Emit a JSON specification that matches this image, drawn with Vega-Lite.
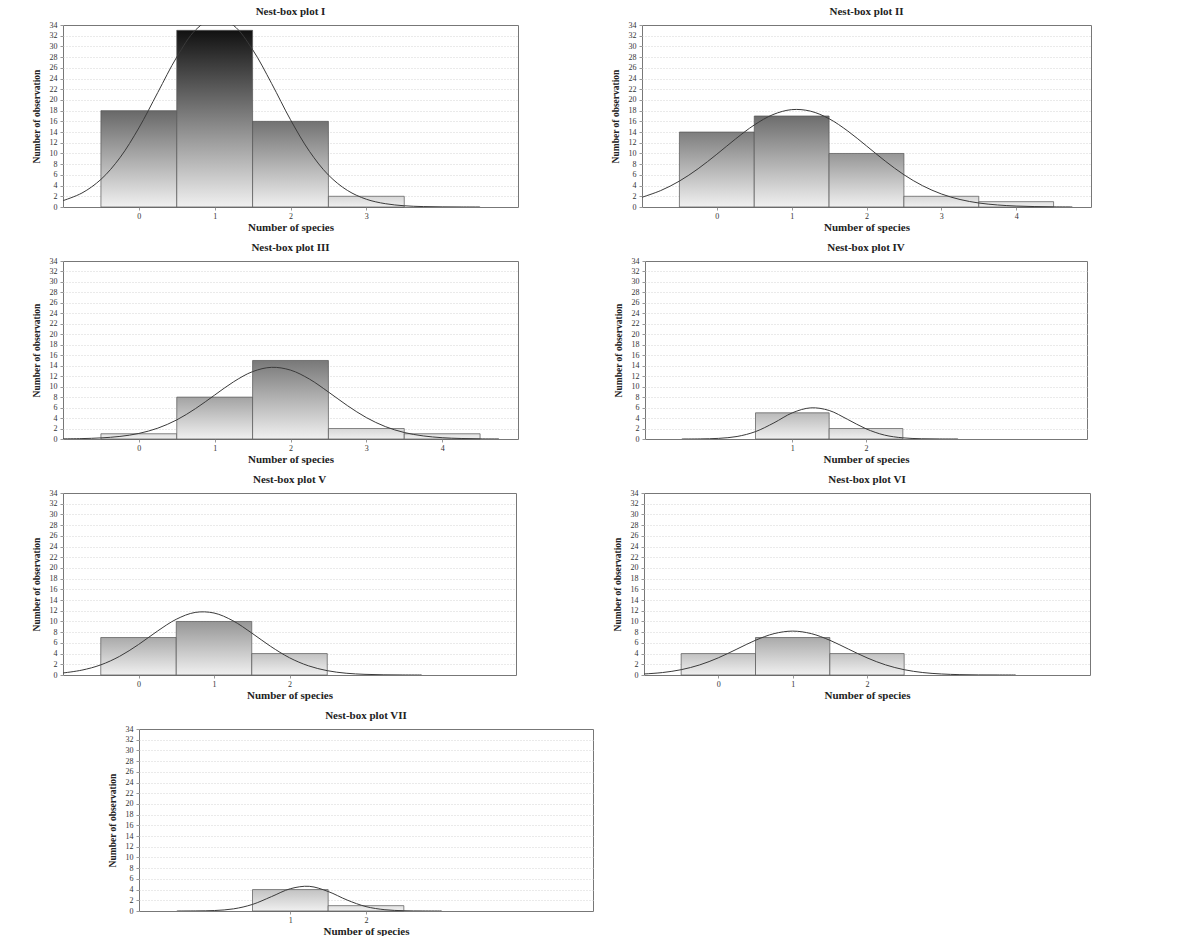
{
  "$schema": "https://vega.github.io/schema/vega-lite/v6.json",
  "background": "white",
  "padding": {"left": 30, "top": 5, "right": 5, "bottom": 2},
  "datasets": {
    "bars": [
      {"p": "I", "from": -0.5, "to": 0.5, "n": 18},
      {"p": "I", "from": 0.5, "to": 1.5, "n": 33},
      {"p": "I", "from": 1.5, "to": 2.5, "n": 16},
      {"p": "I", "from": 2.5, "to": 3.5, "n": 2},
      {"p": "II", "from": -0.5, "to": 0.5, "n": 14},
      {"p": "II", "from": 0.5, "to": 1.5, "n": 17},
      {"p": "II", "from": 1.5, "to": 2.5, "n": 10},
      {"p": "II", "from": 2.5, "to": 3.5, "n": 2},
      {"p": "II", "from": 3.5, "to": 4.5, "n": 1},
      {"p": "III", "from": -0.5, "to": 0.5, "n": 1},
      {"p": "III", "from": 0.5, "to": 1.5, "n": 8},
      {"p": "III", "from": 1.5, "to": 2.5, "n": 15},
      {"p": "III", "from": 2.5, "to": 3.5, "n": 2},
      {"p": "III", "from": 3.5, "to": 4.5, "n": 1},
      {"p": "IV", "from": 0.5, "to": 1.5, "n": 5},
      {"p": "IV", "from": 1.5, "to": 2.5, "n": 2},
      {"p": "V", "from": -0.5, "to": 0.5, "n": 7},
      {"p": "V", "from": 0.5, "to": 1.5, "n": 10},
      {"p": "V", "from": 1.5, "to": 2.5, "n": 4},
      {"p": "VI", "from": -0.5, "to": 0.5, "n": 4},
      {"p": "VI", "from": 0.5, "to": 1.5, "n": 7},
      {"p": "VI", "from": 1.5, "to": 2.5, "n": 4},
      {"p": "VII", "from": 0.5, "to": 1.5, "n": 4},
      {"p": "VII", "from": 1.5, "to": 2.5, "n": 1}
    ],
    "curve": [
      {"p": "I", "x": -1, "y": 1.19}, {"p": "I", "x": -0.75, "y": 2.61}, {"p": "I", "x": -0.5, "y": 5.15}, {"p": "I", "x": -0.25, "y": 9.19},
      {"p": "I", "x": 0, "y": 14.76}, {"p": "I", "x": 0.25, "y": 21.4}, {"p": "I", "x": 0.5, "y": 28.0}, {"p": "I", "x": 0.75, "y": 33.1},
      {"p": "I", "x": 1, "y": 35.3}, {"p": "I", "x": 1.25, "y": 33.9}, {"p": "I", "x": 1.5, "y": 29.4}, {"p": "I", "x": 1.75, "y": 23.1},
      {"p": "I", "x": 2, "y": 16.3}, {"p": "I", "x": 2.25, "y": 10.4}, {"p": "I", "x": 2.5, "y": 5.97}, {"p": "I", "x": 2.75, "y": 3.1},
      {"p": "I", "x": 3, "y": 1.45}, {"p": "I", "x": 3.25, "y": 0.62}, {"p": "I", "x": 3.5, "y": 0.23}, {"p": "I", "x": 3.75, "y": 0.08},
      {"p": "I", "x": 4, "y": 0.03}, {"p": "I", "x": 4.25, "y": 0.01}, {"p": "I", "x": 4.5, "y": 0},
      {"p": "II", "x": -1, "y": 1.82}, {"p": "II", "x": -0.75, "y": 3.07}, {"p": "II", "x": -0.5, "y": 4.84}, {"p": "II", "x": -0.25, "y": 7.15},
      {"p": "II", "x": 0, "y": 9.86}, {"p": "II", "x": 0.25, "y": 12.71}, {"p": "II", "x": 0.5, "y": 15.32}, {"p": "II", "x": 0.75, "y": 17.26},
      {"p": "II", "x": 1, "y": 18.19}, {"p": "II", "x": 1.25, "y": 17.91}, {"p": "II", "x": 1.5, "y": 16.49}, {"p": "II", "x": 1.75, "y": 14.19},
      {"p": "II", "x": 2, "y": 11.41}, {"p": "II", "x": 2.25, "y": 8.58}, {"p": "II", "x": 2.5, "y": 6.03}, {"p": "II", "x": 2.75, "y": 3.97},
      {"p": "II", "x": 3, "y": 2.44}, {"p": "II", "x": 3.25, "y": 1.4}, {"p": "II", "x": 3.5, "y": 0.75}, {"p": "II", "x": 3.75, "y": 0.38},
      {"p": "II", "x": 4, "y": 0.18}, {"p": "II", "x": 4.25, "y": 0.08}, {"p": "II", "x": 4.5, "y": 0.03}, {"p": "II", "x": 4.75, "y": 0.01},
      {"p": "III", "x": -1, "y": 0.03}, {"p": "III", "x": -0.75, "y": 0.08}, {"p": "III", "x": -0.5, "y": 0.21}, {"p": "III", "x": -0.25, "y": 0.49},
      {"p": "III", "x": 0, "y": 1.06}, {"p": "III", "x": 0.25, "y": 2.07}, {"p": "III", "x": 0.5, "y": 3.65}, {"p": "III", "x": 0.75, "y": 5.83},
      {"p": "III", "x": 1, "y": 8.39}, {"p": "III", "x": 1.25, "y": 10.93}, {"p": "III", "x": 1.5, "y": 12.87}, {"p": "III", "x": 1.75, "y": 13.69},
      {"p": "III", "x": 2, "y": 13.16}, {"p": "III", "x": 2.25, "y": 11.44}, {"p": "III", "x": 2.5, "y": 8.98}, {"p": "III", "x": 2.75, "y": 6.38},
      {"p": "III", "x": 3, "y": 4.09}, {"p": "III", "x": 3.25, "y": 2.37}, {"p": "III", "x": 3.5, "y": 1.24}, {"p": "III", "x": 3.75, "y": 0.59},
      {"p": "III", "x": 4, "y": 0.25}, {"p": "III", "x": 4.25, "y": 0.1}, {"p": "III", "x": 4.5, "y": 0.03}, {"p": "III", "x": 4.75, "y": 0.01},
      {"p": "IV", "x": -0.5, "y": 0}, {"p": "IV", "x": -0.25, "y": 0.02}, {"p": "IV", "x": 0, "y": 0.12}, {"p": "IV", "x": 0.25, "y": 0.48},
      {"p": "IV", "x": 0.5, "y": 1.41}, {"p": "IV", "x": 0.75, "y": 3.08}, {"p": "IV", "x": 1, "y": 5.0}, {"p": "IV", "x": 1.25, "y": 5.95},
      {"p": "IV", "x": 1.5, "y": 5.45}, {"p": "IV", "x": 1.75, "y": 3.75}, {"p": "IV", "x": 2, "y": 1.95}, {"p": "IV", "x": 2.25, "y": 0.75},
      {"p": "IV", "x": 2.5, "y": 0.22}, {"p": "IV", "x": 2.75, "y": 0.05}, {"p": "IV", "x": 3, "y": 0.01}, {"p": "IV", "x": 3.25, "y": 0},
      {"p": "V", "x": -1, "y": 0.38}, {"p": "V", "x": -0.75, "y": 0.91}, {"p": "V", "x": -0.5, "y": 1.89}, {"p": "V", "x": -0.25, "y": 3.49},
      {"p": "V", "x": 0, "y": 5.69}, {"p": "V", "x": 0.25, "y": 8.19}, {"p": "V", "x": 0.5, "y": 10.41}, {"p": "V", "x": 0.75, "y": 11.69},
      {"p": "V", "x": 1, "y": 11.58}, {"p": "V", "x": 1.25, "y": 10.14}, {"p": "V", "x": 1.5, "y": 7.84}, {"p": "V", "x": 1.75, "y": 5.35},
      {"p": "V", "x": 2, "y": 3.22}, {"p": "V", "x": 2.25, "y": 1.72}, {"p": "V", "x": 2.5, "y": 0.81}, {"p": "V", "x": 2.75, "y": 0.33},
      {"p": "V", "x": 3, "y": 0.12}, {"p": "V", "x": 3.25, "y": 0.04}, {"p": "V", "x": 3.5, "y": 0.01}, {"p": "V", "x": 3.75, "y": 0},
      {"p": "VI", "x": -1, "y": 0.19}, {"p": "VI", "x": -0.75, "y": 0.46}, {"p": "VI", "x": -0.5, "y": 0.99}, {"p": "VI", "x": -0.25, "y": 1.89},
      {"p": "VI", "x": 0, "y": 3.21}, {"p": "VI", "x": 0.25, "y": 4.84}, {"p": "VI", "x": 0.5, "y": 6.49}, {"p": "VI", "x": 0.75, "y": 7.73},
      {"p": "VI", "x": 1, "y": 8.2}, {"p": "VI", "x": 1.25, "y": 7.73}, {"p": "VI", "x": 1.5, "y": 6.49}, {"p": "VI", "x": 1.75, "y": 4.84},
      {"p": "VI", "x": 2, "y": 3.21}, {"p": "VI", "x": 2.25, "y": 1.89}, {"p": "VI", "x": 2.5, "y": 0.99}, {"p": "VI", "x": 2.75, "y": 0.46},
      {"p": "VI", "x": 3, "y": 0.19}, {"p": "VI", "x": 3.25, "y": 0.07}, {"p": "VI", "x": 3.5, "y": 0.02}, {"p": "VI", "x": 3.75, "y": 0.01}, {"p": "VI", "x": 4, "y": 0},
      {"p": "VII", "x": -0.5, "y": 0}, {"p": "VII", "x": -0.25, "y": 0.02}, {"p": "VII", "x": 0, "y": 0.09}, {"p": "VII", "x": 0.25, "y": 0.4},
      {"p": "VII", "x": 0.5, "y": 1.23}, {"p": "VII", "x": 0.75, "y": 2.68}, {"p": "VII", "x": 1, "y": 4.16}, {"p": "VII", "x": 1.25, "y": 4.61},
      {"p": "VII", "x": 1.5, "y": 3.64}, {"p": "VII", "x": 1.75, "y": 2.05}, {"p": "VII", "x": 2, "y": 0.82}, {"p": "VII", "x": 2.25, "y": 0.24},
      {"p": "VII", "x": 2.5, "y": 0.05}, {"p": "VII", "x": 2.75, "y": 0.01}, {"p": "VII", "x": 3, "y": 0}
    ]
  },
  "spacing": 8,
  "vconcat": [
    {
      "spacing": 90,
      "hconcat": [
        {
          "title": "Nest-box plot I",
          "width": 455, "height": 182,
          "layer": [
            {
              "data": {"name": "bars"},
              "transform": [{"filter": "datum.p == 'I'"}],
              "mark": {"type": "rect", "stroke": "#555555", "strokeWidth": 0.7},
              "encoding": {
                "x": {"field": "from", "type": "quantitative", "scale": {"domain": [-1, 5], "nice": false}, "axis": {"values": [0, 1, 2, 3], "title": "Number of species", "format": "d"}},
                "x2": {"field": "to"},
                "y": {"field": "n", "type": "quantitative", "scale": {"domain": [0, 34], "nice": false}, "axis": {"values": [0, 2, 4, 6, 8, 10, 12, 14, 16, 18, 20, 22, 24, 26, 28, 30, 32, 34], "title": "Number of observation", "format": "d"}},
                "y2": {"datum": 0},
                "fill": {
                  "condition": [
                    {"test": "datum.n == 33", "value": {"gradient": "linear", "x1": 0, "y1": 0, "x2": 0, "y2": 1, "stops": [{"offset": 0, "color": "#111111"}, {"offset": 1, "color": "#f0f0f0"}]}},
                    {"test": "datum.n == 18", "value": {"gradient": "linear", "x1": 0, "y1": 0, "x2": 0, "y2": 1, "stops": [{"offset": 0, "color": "#686868"}, {"offset": 1, "color": "#f0f0f0"}]}},
                    {"test": "datum.n == 16", "value": {"gradient": "linear", "x1": 0, "y1": 0, "x2": 0, "y2": 1, "stops": [{"offset": 0, "color": "#727272"}, {"offset": 1, "color": "#f0f0f0"}]}}
                  ],
                  "value": {"gradient": "linear", "x1": 0, "y1": 0, "x2": 0, "y2": 1, "stops": [{"offset": 0, "color": "#d6d6d6"}, {"offset": 1, "color": "#f0f0f0"}]}
                }
              }
            },
            {
              "data": {"name": "curve"},
              "transform": [{"filter": "datum.p == 'I'"}],
              "mark": {"type": "line", "interpolate": "catmull-rom", "clip": true, "color": "#3a3a3a", "strokeWidth": 1},
              "encoding": {
                "x": {"field": "x", "type": "quantitative", "scale": {"domain": [-1, 5], "nice": false}, "axis": {"values": [0, 1, 2, 3], "title": "Number of species", "format": "d"}},
                "y": {"field": "y", "type": "quantitative", "scale": {"domain": [0, 34], "nice": false}, "axis": {"values": [0, 2, 4, 6, 8, 10, 12, 14, 16, 18, 20, 22, 24, 26, 28, 30, 32, 34], "title": "Number of observation", "format": "d"}}
              }
            }
          ]
        },
        {
          "title": "Nest-box plot II",
          "width": 449, "height": 182,
          "layer": [
            {
              "data": {"name": "bars"},
              "transform": [{"filter": "datum.p == 'II'"}],
              "mark": {"type": "rect", "stroke": "#555555", "strokeWidth": 0.7},
              "encoding": {
                "x": {"field": "from", "type": "quantitative", "scale": {"domain": [-1, 5], "nice": false}, "axis": {"values": [0, 1, 2, 3, 4], "title": "Number of species", "format": "d"}},
                "x2": {"field": "to"},
                "y": {"field": "n", "type": "quantitative", "scale": {"domain": [0, 34], "nice": false}, "axis": {"values": [0, 2, 4, 6, 8, 10, 12, 14, 16, 18, 20, 22, 24, 26, 28, 30, 32, 34], "title": "Number of observation", "format": "d"}},
                "y2": {"datum": 0},
                "fill": {
                  "condition": [
                    {"test": "datum.n == 17", "value": {"gradient": "linear", "x1": 0, "y1": 0, "x2": 0, "y2": 1, "stops": [{"offset": 0, "color": "#6d6d6d"}, {"offset": 1, "color": "#f0f0f0"}]}},
                    {"test": "datum.n == 14", "value": {"gradient": "linear", "x1": 0, "y1": 0, "x2": 0, "y2": 1, "stops": [{"offset": 0, "color": "#7e7e7e"}, {"offset": 1, "color": "#f0f0f0"}]}},
                    {"test": "datum.n == 10", "value": {"gradient": "linear", "x1": 0, "y1": 0, "x2": 0, "y2": 1, "stops": [{"offset": 0, "color": "#969696"}, {"offset": 1, "color": "#f0f0f0"}]}},
                    {"test": "datum.n == 2", "value": {"gradient": "linear", "x1": 0, "y1": 0, "x2": 0, "y2": 1, "stops": [{"offset": 0, "color": "#d6d6d6"}, {"offset": 1, "color": "#f0f0f0"}]}}
                  ],
                  "value": {"gradient": "linear", "x1": 0, "y1": 0, "x2": 0, "y2": 1, "stops": [{"offset": 0, "color": "#e0e0e0"}, {"offset": 1, "color": "#f0f0f0"}]}
                }
              }
            },
            {
              "data": {"name": "curve"},
              "transform": [{"filter": "datum.p == 'II'"}],
              "mark": {"type": "line", "interpolate": "catmull-rom", "clip": true, "color": "#3a3a3a", "strokeWidth": 1},
              "encoding": {
                "x": {"field": "x", "type": "quantitative", "scale": {"domain": [-1, 5], "nice": false}, "axis": {"values": [0, 1, 2, 3, 4], "title": "Number of species", "format": "d"}},
                "y": {"field": "y", "type": "quantitative", "scale": {"domain": [0, 34], "nice": false}, "axis": {"values": [0, 2, 4, 6, 8, 10, 12, 14, 16, 18, 20, 22, 24, 26, 28, 30, 32, 34], "title": "Number of observation", "format": "d"}}
              }
            }
          ]
        }
      ]
    },
    {
      "spacing": 93,
      "hconcat": [
        {
          "title": "Nest-box plot III",
          "width": 455, "height": 178,
          "layer": [
            {
              "data": {"name": "bars"},
              "transform": [{"filter": "datum.p == 'III'"}],
              "mark": {"type": "rect", "stroke": "#555555", "strokeWidth": 0.7},
              "encoding": {
                "x": {"field": "from", "type": "quantitative", "scale": {"domain": [-1, 5], "nice": false}, "axis": {"values": [0, 1, 2, 3, 4], "title": "Number of species", "format": "d"}},
                "x2": {"field": "to"},
                "y": {"field": "n", "type": "quantitative", "scale": {"domain": [0, 34], "nice": false}, "axis": {"values": [0, 2, 4, 6, 8, 10, 12, 14, 16, 18, 20, 22, 24, 26, 28, 30, 32, 34], "title": "Number of observation", "format": "d"}},
                "y2": {"datum": 0},
                "fill": {
                  "condition": [
                    {"test": "datum.n == 15", "value": {"gradient": "linear", "x1": 0, "y1": 0, "x2": 0, "y2": 1, "stops": [{"offset": 0, "color": "#787878"}, {"offset": 1, "color": "#f0f0f0"}]}},
                    {"test": "datum.n == 8", "value": {"gradient": "linear", "x1": 0, "y1": 0, "x2": 0, "y2": 1, "stops": [{"offset": 0, "color": "#a3a3a3"}, {"offset": 1, "color": "#f0f0f0"}]}},
                    {"test": "datum.n == 2", "value": {"gradient": "linear", "x1": 0, "y1": 0, "x2": 0, "y2": 1, "stops": [{"offset": 0, "color": "#d6d6d6"}, {"offset": 1, "color": "#f0f0f0"}]}}
                  ],
                  "value": {"gradient": "linear", "x1": 0, "y1": 0, "x2": 0, "y2": 1, "stops": [{"offset": 0, "color": "#e0e0e0"}, {"offset": 1, "color": "#f0f0f0"}]}
                }
              }
            },
            {
              "data": {"name": "curve"},
              "transform": [{"filter": "datum.p == 'III'"}],
              "mark": {"type": "line", "interpolate": "catmull-rom", "clip": true, "color": "#3a3a3a", "strokeWidth": 1},
              "encoding": {
                "x": {"field": "x", "type": "quantitative", "scale": {"domain": [-1, 5], "nice": false}, "axis": {"values": [0, 1, 2, 3, 4], "title": "Number of species", "format": "d"}},
                "y": {"field": "y", "type": "quantitative", "scale": {"domain": [0, 34], "nice": false}, "axis": {"values": [0, 2, 4, 6, 8, 10, 12, 14, 16, 18, 20, 22, 24, 26, 28, 30, 32, 34], "title": "Number of observation", "format": "d"}}
              }
            }
          ]
        },
        {
          "title": "Nest-box plot IV",
          "width": 442, "height": 178,
          "layer": [
            {
              "data": {"name": "bars"},
              "transform": [{"filter": "datum.p == 'IV'"}],
              "mark": {"type": "rect", "stroke": "#555555", "strokeWidth": 0.7},
              "encoding": {
                "x": {"field": "from", "type": "quantitative", "scale": {"domain": [-1, 5], "nice": false}, "axis": {"values": [1, 2], "title": "Number of species", "format": "d"}},
                "x2": {"field": "to"},
                "y": {"field": "n", "type": "quantitative", "scale": {"domain": [0, 34], "nice": false}, "axis": {"values": [0, 2, 4, 6, 8, 10, 12, 14, 16, 18, 20, 22, 24, 26, 28, 30, 32, 34], "title": "Number of observation", "format": "d"}},
                "y2": {"datum": 0},
                "fill": {
                  "condition": [
                    {"test": "datum.n == 5", "value": {"gradient": "linear", "x1": 0, "y1": 0, "x2": 0, "y2": 1, "stops": [{"offset": 0, "color": "#b9b9b9"}, {"offset": 1, "color": "#f0f0f0"}]}}
                  ],
                  "value": {"gradient": "linear", "x1": 0, "y1": 0, "x2": 0, "y2": 1, "stops": [{"offset": 0, "color": "#d6d6d6"}, {"offset": 1, "color": "#f0f0f0"}]}
                }
              }
            },
            {
              "data": {"name": "curve"},
              "transform": [{"filter": "datum.p == 'IV'"}],
              "mark": {"type": "line", "interpolate": "catmull-rom", "clip": true, "color": "#3a3a3a", "strokeWidth": 1},
              "encoding": {
                "x": {"field": "x", "type": "quantitative", "scale": {"domain": [-1, 5], "nice": false}, "axis": {"values": [1, 2], "title": "Number of species", "format": "d"}},
                "y": {"field": "y", "type": "quantitative", "scale": {"domain": [0, 34], "nice": false}, "axis": {"values": [0, 2, 4, 6, 8, 10, 12, 14, 16, 18, 20, 22, 24, 26, 28, 30, 32, 34], "title": "Number of observation", "format": "d"}}
              }
            }
          ]
        }
      ]
    },
    {
      "spacing": 94,
      "hconcat": [
        {
          "title": "Nest-box plot V",
          "width": 453, "height": 182,
          "layer": [
            {
              "data": {"name": "bars"},
              "transform": [{"filter": "datum.p == 'V'"}],
              "mark": {"type": "rect", "stroke": "#555555", "strokeWidth": 0.7},
              "encoding": {
                "x": {"field": "from", "type": "quantitative", "scale": {"domain": [-1, 5], "nice": false}, "axis": {"values": [0, 1, 2], "title": "Number of species", "format": "d"}},
                "x2": {"field": "to"},
                "y": {"field": "n", "type": "quantitative", "scale": {"domain": [0, 34], "nice": false}, "axis": {"values": [0, 2, 4, 6, 8, 10, 12, 14, 16, 18, 20, 22, 24, 26, 28, 30, 32, 34], "title": "Number of observation", "format": "d"}},
                "y2": {"datum": 0},
                "fill": {
                  "condition": [
                    {"test": "datum.n == 10", "value": {"gradient": "linear", "x1": 0, "y1": 0, "x2": 0, "y2": 1, "stops": [{"offset": 0, "color": "#969696"}, {"offset": 1, "color": "#f0f0f0"}]}},
                    {"test": "datum.n == 7", "value": {"gradient": "linear", "x1": 0, "y1": 0, "x2": 0, "y2": 1, "stops": [{"offset": 0, "color": "#aaaaaa"}, {"offset": 1, "color": "#f0f0f0"}]}}
                  ],
                  "value": {"gradient": "linear", "x1": 0, "y1": 0, "x2": 0, "y2": 1, "stops": [{"offset": 0, "color": "#c2c2c2"}, {"offset": 1, "color": "#f0f0f0"}]}
                }
              }
            },
            {
              "data": {"name": "curve"},
              "transform": [{"filter": "datum.p == 'V'"}],
              "mark": {"type": "line", "interpolate": "catmull-rom", "clip": true, "color": "#3a3a3a", "strokeWidth": 1},
              "encoding": {
                "x": {"field": "x", "type": "quantitative", "scale": {"domain": [-1, 5], "nice": false}, "axis": {"values": [0, 1, 2], "title": "Number of species", "format": "d"}},
                "y": {"field": "y", "type": "quantitative", "scale": {"domain": [0, 34], "nice": false}, "axis": {"values": [0, 2, 4, 6, 8, 10, 12, 14, 16, 18, 20, 22, 24, 26, 28, 30, 32, 34], "title": "Number of observation", "format": "d"}}
              }
            }
          ]
        },
        {
          "title": "Nest-box plot VI",
          "width": 446, "height": 182,
          "layer": [
            {
              "data": {"name": "bars"},
              "transform": [{"filter": "datum.p == 'VI'"}],
              "mark": {"type": "rect", "stroke": "#555555", "strokeWidth": 0.7},
              "encoding": {
                "x": {"field": "from", "type": "quantitative", "scale": {"domain": [-1, 5], "nice": false}, "axis": {"values": [0, 1, 2], "title": "Number of species", "format": "d"}},
                "x2": {"field": "to"},
                "y": {"field": "n", "type": "quantitative", "scale": {"domain": [0, 34], "nice": false}, "axis": {"values": [0, 2, 4, 6, 8, 10, 12, 14, 16, 18, 20, 22, 24, 26, 28, 30, 32, 34], "title": "Number of observation", "format": "d"}},
                "y2": {"datum": 0},
                "fill": {
                  "condition": [
                    {"test": "datum.n == 7", "value": {"gradient": "linear", "x1": 0, "y1": 0, "x2": 0, "y2": 1, "stops": [{"offset": 0, "color": "#aaaaaa"}, {"offset": 1, "color": "#f0f0f0"}]}}
                  ],
                  "value": {"gradient": "linear", "x1": 0, "y1": 0, "x2": 0, "y2": 1, "stops": [{"offset": 0, "color": "#c2c2c2"}, {"offset": 1, "color": "#f0f0f0"}]}
                }
              }
            },
            {
              "data": {"name": "curve"},
              "transform": [{"filter": "datum.p == 'VI'"}],
              "mark": {"type": "line", "interpolate": "catmull-rom", "clip": true, "color": "#3a3a3a", "strokeWidth": 1},
              "encoding": {
                "x": {"field": "x", "type": "quantitative", "scale": {"domain": [-1, 5], "nice": false}, "axis": {"values": [0, 1, 2], "title": "Number of species", "format": "d"}},
                "y": {"field": "y", "type": "quantitative", "scale": {"domain": [0, 34], "nice": false}, "axis": {"values": [0, 2, 4, 6, 8, 10, 12, 14, 16, 18, 20, 22, 24, 26, 28, 30, 32, 34], "title": "Number of observation", "format": "d"}}
              }
            }
          ]
        }
      ]
    },
    {
      "spacing": 1,
      "hconcat": [
        {
          "width": 42, "height": 10,
          "view": {"stroke": null},
          "data": {"values": [{"blank": 0}]},
          "mark": {"type": "point", "opacity": 0},
          "encoding": {}
        },
        {
          "title": "Nest-box plot VII",
          "width": 454, "height": 182,
          "layer": [
            {
              "data": {"name": "bars"},
              "transform": [{"filter": "datum.p == 'VII'"}],
              "mark": {"type": "rect", "stroke": "#555555", "strokeWidth": 0.7},
              "encoding": {
                "x": {"field": "from", "type": "quantitative", "scale": {"domain": [-1, 5], "nice": false}, "axis": {"values": [1, 2], "title": "Number of species", "format": "d"}},
                "x2": {"field": "to"},
                "y": {"field": "n", "type": "quantitative", "scale": {"domain": [0, 34], "nice": false}, "axis": {"values": [0, 2, 4, 6, 8, 10, 12, 14, 16, 18, 20, 22, 24, 26, 28, 30, 32, 34], "title": "Number of observation", "format": "d"}},
                "y2": {"datum": 0},
                "fill": {
                  "condition": [
                    {"test": "datum.n == 4", "value": {"gradient": "linear", "x1": 0, "y1": 0, "x2": 0, "y2": 1, "stops": [{"offset": 0, "color": "#c2c2c2"}, {"offset": 1, "color": "#f0f0f0"}]}}
                  ],
                  "value": {"gradient": "linear", "x1": 0, "y1": 0, "x2": 0, "y2": 1, "stops": [{"offset": 0, "color": "#e0e0e0"}, {"offset": 1, "color": "#f0f0f0"}]}
                }
              }
            },
            {
              "data": {"name": "curve"},
              "transform": [{"filter": "datum.p == 'VII'"}],
              "mark": {"type": "line", "interpolate": "catmull-rom", "clip": true, "color": "#3a3a3a", "strokeWidth": 1},
              "encoding": {
                "x": {"field": "x", "type": "quantitative", "scale": {"domain": [-1, 5], "nice": false}, "axis": {"values": [1, 2], "title": "Number of species", "format": "d"}},
                "y": {"field": "y", "type": "quantitative", "scale": {"domain": [0, 34], "nice": false}, "axis": {"values": [0, 2, 4, 6, 8, 10, 12, 14, 16, 18, 20, 22, 24, 26, 28, 30, 32, 34], "title": "Number of observation", "format": "d"}}
              }
            }
          ]
        }
      ]
    }
  ],
  "config": {
    "font": "Liberation Serif",
    "view": {"stroke": "#777777", "strokeWidth": 1},
    "title": {"font": "Liberation Serif", "fontSize": 11, "fontWeight": "bold", "offset": 4, "color": "#222222"},
    "axis": {
      "labelFont": "Liberation Serif", "titleFont": "Liberation Serif",
      "labelFontSize": 8, "labelColor": "#333333", "titleColor": "#222222",
      "tickColor": "#999999", "tickSize": 3, "domain": false, "labelOverlap": false
    },
    "axisX": {"grid": false, "titleFontSize": 11, "titleFontWeight": "bold", "titlePadding": 1, "labelPadding": 2},
    "axisY": {
      "grid": true, "gridColor": "#d4d4d4", "gridDash": [1, 2],
      "gridOpacity": {"condition": {"test": "datum.value <= 0 || datum.value >= 34", "value": 0}, "value": 1},
      "titleFontSize": 9.5, "titleFontWeight": "bold", "titlePadding": 8, "labelPadding": 3
    }
  }
}
